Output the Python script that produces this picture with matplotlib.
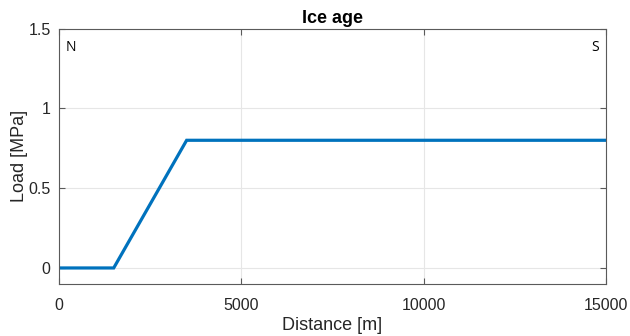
import matplotlib
matplotlib.use("Agg")
import matplotlib.pyplot as plt

# load profile along the section
distance = [0, 1500, 3500, 15000]
load = [0, 0, 0.8, 0.8]
xticks = [0, 5000, 10000, 15000]
yticks = [0, 0.5, 1, 1.5]

plt.rcParams['font.family'] = ['Liberation Sans', 'DejaVu Sans']
axcol = '#5a5a5a'

fig = plt.figure(figsize=(6.3, 3.36), dpi=100)
ax = fig.add_axes([0.0937, 0.155, 0.868, 0.76])
ax.plot(distance, load, color='#0072BD', lw=2.3, solid_joinstyle='miter')
ax.set_xlim(0, 15000)
ax.set_ylim(-0.1, 1.5)
ax.set_xticks(xticks)
ax.set_yticks(yticks)
ax.set_xticklabels([str(t) for t in xticks])
ax.set_yticklabels(['0', '0.5', '1', '1.5'])
ax.grid(True, color='#e6e6e6', lw=0.8)
ax.set_axisbelow(True)
ax.tick_params(direction='in', length=4, width=0.8, colors=axcol,
               labelcolor='#262626', labelsize=11.5, top=True, right=True)
ax.tick_params(axis='x', pad=10)
ax.tick_params(axis='y', pad=6)
for s in ax.spines.values():
    s.set_color(axcol)
    s.set_linewidth(0.8)

ax.set_xlabel('Distance [m]', fontsize=13, color='#262626', labelpad=3)
ax.set_ylabel('Load [MPa]', fontsize=13, color='#262626', labelpad=0)
ax.set_title('Ice age', fontsize=13, fontweight='bold', color='#000000', pad=4)

ax.text(0.012, 0.955, 'N', transform=ax.transAxes, fontsize=10,
        family=['Open Sans', 'DejaVu Sans'], va='top', ha='left')
ax.text(0.988, 0.955, 'S', transform=ax.transAxes, fontsize=10,
        family=['Open Sans', 'DejaVu Sans'], va='top', ha='right')

fig.savefig('out.png', dpi=100)
